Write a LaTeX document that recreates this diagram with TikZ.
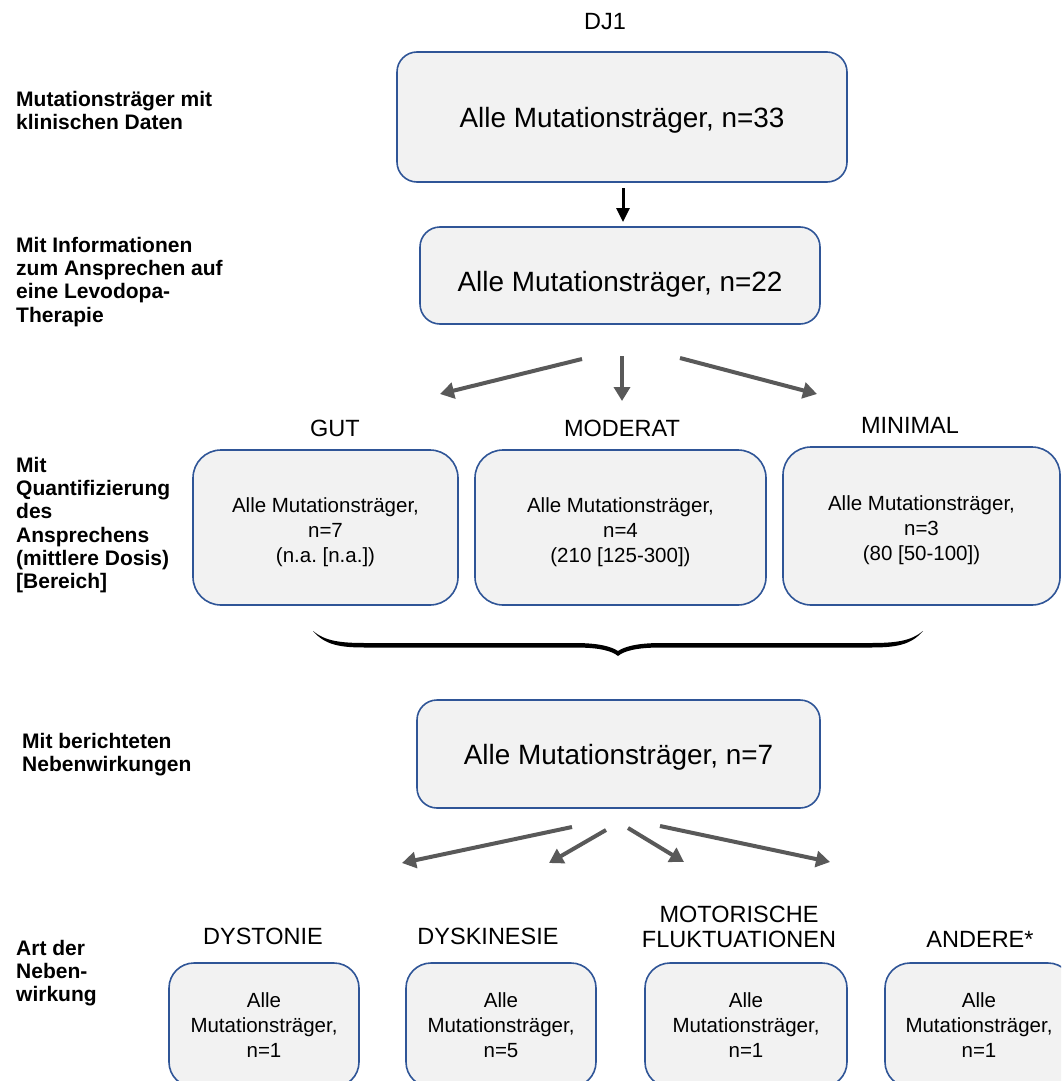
\documentclass[tikz,border=0pt]{standalone}
\usepackage{fontspec}
\setmainfont{Liberation Sans}
\usetikzlibrary{arrows.meta}
\definecolor{boxfill}{HTML}{F2F2F2}
\definecolor{boxline}{HTML}{2F5597}
\definecolor{arrowgray}{HTML}{595959}
% invisible strut that lowers the text inside a centred box
\newcommand{\txtdrop}[1]{\rule{0pt}{#1}}
\frenchspacing

\begin{document}
\begin{tikzpicture}[x=1pt,y=-1pt,
  box/.style={draw=boxline, line width=1.6pt, fill=boxfill, inner sep=0pt, align=center},
  bigtxt/.style={font=\fontsize{27.9}{33}\selectfont},
  smalltxt/.style={font=\fontsize{20.5}{25}\selectfont\frenchspacing},
  head/.style={font=\fontsize{23.5}{25}\selectfont, align=center, inner sep=0pt},
  lbl/.style={font=\bfseries\fontsize{21}{23.2}\selectfont, align=left, anchor=north west, inner sep=0pt},
  fan/.style={draw=arrowgray, line width=4pt, -{Triangle[length=14pt,width=16pt]}},
]
\useasboundingbox (0,0) rectangle (1061,1081);
\clip (0,0) rectangle (1061,1081);

% row labels
\node[lbl] (l1) at (16,91)  {Mutationsträger mit\\klinischen Daten};
\node[lbl] (l2) at (16,237) {Mit Informationen\\zum Ansprechen auf\\eine Levodopa-\\Therapie};
\node[lbl] (l3) at (16,457) {Mit\\Quantifizierung\\des\\Ansprechens\\(mittlere Dosis)\\{[Bereich]}};
\node[lbl] (l4) at (22,733) {Mit berichteten\\Nebenwirkungen};
\node[lbl] (l5) at (16,940) {Art der\\Neben-\\wirkung};

% title
\node[head] (title) at (605,22) {DJ1};

% top boxes
\node[box, bigtxt, rounded corners=20pt, minimum width=450pt, minimum height=130pt] (all33) at (622,117)
  {\txtdrop{26.5pt}Alle Mutationsträger, n=33};
\node[box, bigtxt, rounded corners=20pt, minimum width=400pt, minimum height=97pt] (all22) at (620,275.5)
  {\txtdrop{37pt}Alle Mutationsträger, n=22};

\coordinate (a0s) at (623,188);
\coordinate (a0e) at (623,222);
\draw[line width=3pt, -{Triangle[length=14pt,width=13pt]}] (a0s) -- (a0e);

% response arrows
\coordinate (r1s) at (582,359); \coordinate (r1e) at (440,394);
\coordinate (r2s) at (622,356); \coordinate (r2e) at (622,401);
\coordinate (r3s) at (680,358); \coordinate (r3e) at (817,394);
\draw[fan] (r1s) -- (r1e);
\draw[fan] (r2s) -- (r2e);
\draw[fan] (r3s) -- (r3e);

% response categories
\node[head] (hgut) at (335,428)   {GUT};
\node[head] (hmod) at (622,428.5) {MODERAT};
\node[head] (hmin) at (910,425)   {MINIMAL};

\node[box, smalltxt, rounded corners=28pt, minimum width=265pt, minimum height=155pt] (gut) at (325.5,527.5)
  {\txtdrop{24pt}Alle Mutationsträger,\\n=7\\(n.a. {[n.a.]})};
\node[box, smalltxt, rounded corners=28pt, minimum width=291pt, minimum height=155pt] (mod) at (620.5,527.5)
  {\txtdrop{24pt}Alle Mutationsträger,\\n=4\\(210 {[125-300]})};
\node[box, smalltxt, rounded corners=28pt, minimum width=277pt, minimum height=158pt] (min) at (921.5,526)
  {\txtdrop{24pt}Alle Mutationsträger,\\n=3\\(80 {[50-100]})};

% curly brace under the three groups
\fill (313,631) .. controls (325,641) and (340,643) .. (365,643) -- (575,643)
  .. controls (600,643) and (612,647) .. (618,651)
  .. controls (624,647) and (636,643) .. (661,643) -- (871,643)
  .. controls (896,643) and (911,641) .. (923,631)
  .. controls (911,645) and (896,647.5) .. (871,647.5) -- (661,647.5)
  .. controls (636,647.5) and (624,651) .. (618,656)
  .. controls (612,651) and (600,647.5) .. (575,647.5) -- (365,647.5)
  .. controls (340,647.5) and (325,645) .. (313,631) -- cycle;

% side effects
\node[box, bigtxt, rounded corners=20pt, minimum width=403pt, minimum height=108pt] (all7) at (618.5,754)
  {\txtdrop{26.5pt}Alle Mutationsträger, n=7};

\coordinate (s1s) at (572,827); \coordinate (s1e) at (402,863);
\coordinate (s2s) at (606,830); \coordinate (s2e) at (549,863);
\coordinate (s3s) at (628,828); \coordinate (s3e) at (684,862);
\coordinate (s4s) at (660,826); \coordinate (s4e) at (830,862);
\draw[fan] (s1s) -- (s1e);
\draw[fan] (s2s) -- (s2e);
\draw[fan] (s3s) -- (s3e);
\draw[fan] (s4s) -- (s4e);

\node[head] (hdyst) at (263,936.5) {DYSTONIE};
\node[head] (hdysk) at (488,936.5) {DYSKINESIE};
\node[head] (hmoto) at (739,927)   {MOTORISCHE\\FLUKTUATIONEN};
\node[head] (hand)  at (980,939.5) {ANDERE*};

\node[box, smalltxt, rounded corners=25pt, minimum width=190pt, minimum height=124pt] (dyst) at (264,1025)
  {Alle\\Mutationsträger,\\n=1};
\node[box, smalltxt, rounded corners=25pt, minimum width=190pt, minimum height=124pt] (dysk) at (501,1025)
  {Alle\\Mutationsträger,\\n=5};
\node[box, smalltxt, rounded corners=25pt, minimum width=202pt, minimum height=124pt] (moto) at (746,1025)
  {Alle\\Mutationsträger,\\n=1};
\node[box, smalltxt, rounded corners=25pt, minimum width=188pt, minimum height=124pt] (and) at (979,1025)
  {Alle\\Mutationsträger,\\n=1};
\end{tikzpicture}
\end{document}
